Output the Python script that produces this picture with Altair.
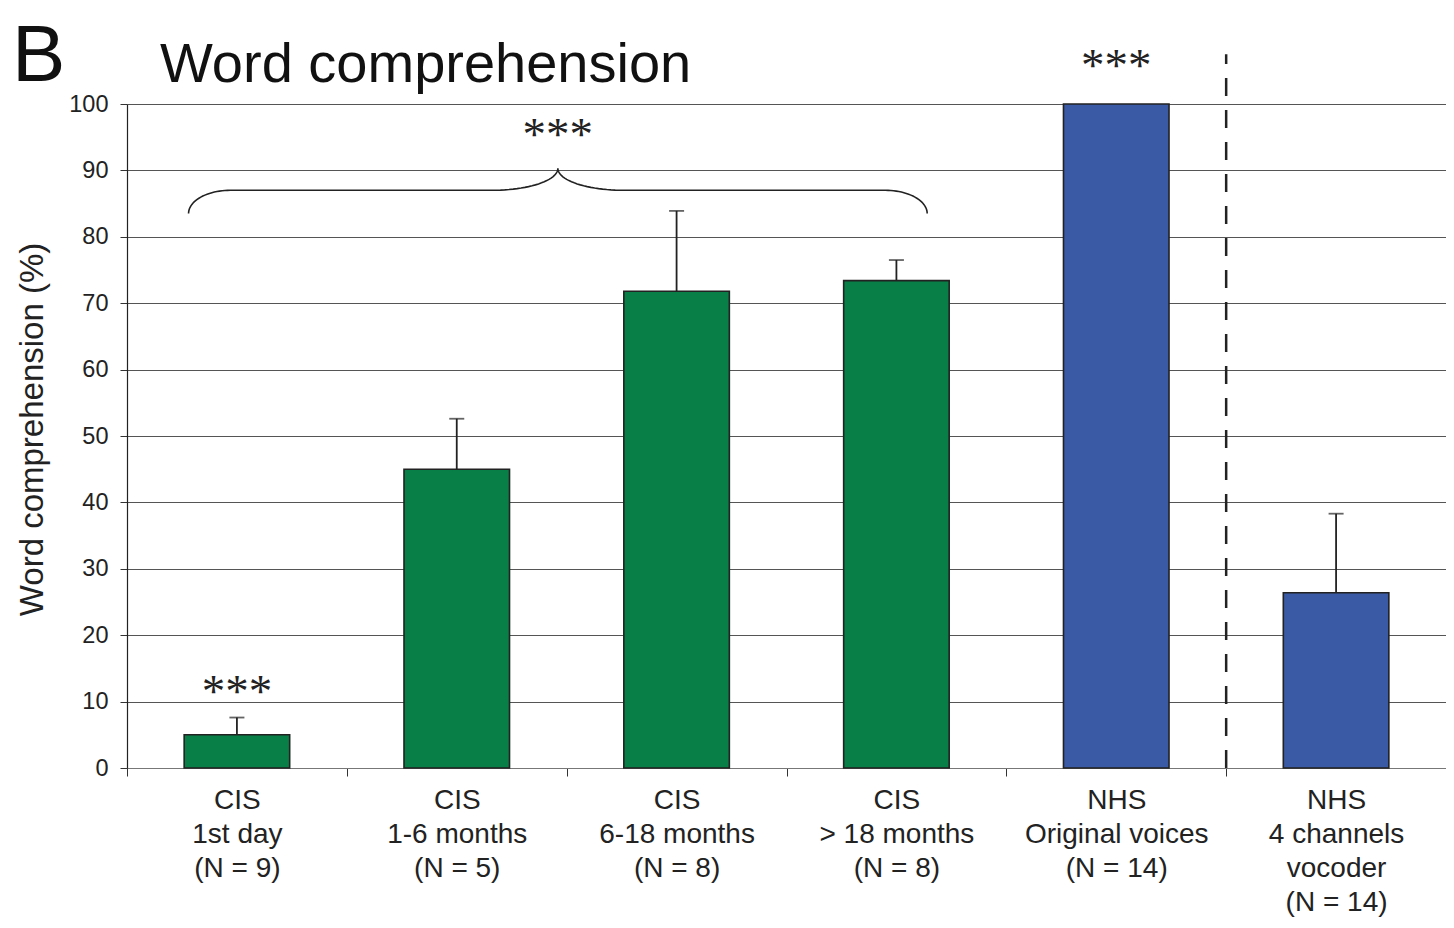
import altair as alt
import pandas as pd
import numpy as np

# ---- data ----
labels = [
    "CIS|1st day|(N = 9)",
    "CIS|1-6 months|(N = 5)",
    "CIS|6-18 months|(N = 8)",
    "CIS|> 18 months|(N = 8)",
    "NHS|Original voices|(N = 14)",
    "NHS|4 channels|vocoder|(N = 14)",
]
groups = ["CIS", "CIS", "CIS", "CIS", "NHS", "NHS"]
means = [5.0, 45.0, 71.8, 73.4, 100.0, 26.4]
upper = [7.6, 52.6, 83.9, 76.5, 100.0, 38.3]
y_ticks = [0, 10, 20, 30, 40, 50, 60, 70, 80, 90, 100]

# brace over the CIS groups (category-index units) and significance marks
brace_span = [0.28, 3.64]
star_pos = [0.5, None, 4.5]          # None -> centre of the brace
star_lvl = [12.3, 96.3, 106.7]
star_txt = ["***", "***", "***"]

df = pd.DataFrame({"label": labels, "group": groups, "mean": means, "upper": upper})
err = df[df["upper"] > df["mean"]]

GREEN = "#077f46"
BLUE = "#3a5aa5"

W, H = 1319, 664
N = len(labels)
BAR = 0.48

xband = alt.X("label:N", sort=labels, title=None,
              scale=alt.Scale(paddingInner=0, paddingOuter=0),
              axis=alt.Axis(labelExpr="split(datum.label, '|')", labelAngle=0,
                            tickBand="extent", labelLimit=0))
yaxis = alt.Axis(values=y_ticks, title="Word comprehension (%)")
ydef = dict(scale=alt.Scale(domain=[0, 100], nice=False, zero=True), axis=yaxis)

bars = alt.Chart(df).mark_bar(stroke="#222", strokeWidth=1.6,
                              width=alt.RelativeBandSize(BAR)).encode(
    x=xband,
    y=alt.Y("mean:Q", **ydef),
    color=alt.Color("group:N", scale=alt.Scale(domain=["CIS", "NHS"], range=[GREEN, BLUE]), legend=None),
)
rules = alt.Chart(err).mark_rule(color="#222", strokeWidth=1.8).encode(
    x=xband, y=alt.Y("mean:Q", **ydef), y2="upper:Q")
caps = alt.Chart(err).mark_tick(color="#222", size=15, thickness=1.8).encode(
    x=xband, y=alt.Y("upper:Q", **ydef))

main = alt.layer(bars, rules, caps)

# ---- annotation layer on a continuous category-index scale ----
xq = dict(scale=alt.Scale(domain=[0, N], nice=False, zero=False), axis=None)

x0, x1 = brace_span
y_end, y_mid, y_tip = 83.5, 87.0, 90.3
rh, rt = 0.19, 0.30
xm = (x0 + x1) / 2
t = np.linspace(0, np.pi / 2, 25)
bx = np.concatenate([
    x0 + rh - rh * np.cos(t),
    xm - rt + rt * np.sin(t),
    xm + rt - rt * np.cos(t),
    x1 - rh + rh * np.sin(t),
])
by = np.concatenate([
    y_end + (y_mid - y_end) * np.sin(t),
    y_tip - (y_tip - y_mid) * np.cos(t),
    y_tip - (y_tip - y_mid) * np.sin(t),
    y_end + (y_mid - y_end) * np.cos(t),
])
brace_df = pd.DataFrame({"x": bx, "y": by, "i": np.arange(len(bx))})
brace = alt.Chart(brace_df).mark_line(color="#222", strokeWidth=1.6).encode(
    x=alt.X("x:Q", **xq), y=alt.Y("y:Q", **ydef), order="i:Q")

sep_df = pd.DataFrame({"x": [5], "y0": [0], "y1": [107.5]})
sep = alt.Chart(sep_df).mark_rule(color="#222", strokeWidth=2.5, strokeDash=[18, 14]).encode(
    x=alt.X("x:Q", **xq), y=alt.Y("y0:Q", **ydef), y2="y1:Q")

stars_df = pd.DataFrame({"x": [xm if p is None else p for p in star_pos],
                         "y": star_lvl, "t": star_txt})
stars = alt.Chart(stars_df).mark_text(font="Liberation Serif", fontSize=47, color="#222",
                                      baseline="alphabetic", dy=21).encode(
    x=alt.X("x:Q", **xq), y=alt.Y("y:Q", **ydef), text="t:N")

panel = alt.Chart(pd.DataFrame({"t": ["B"]})).mark_text(
    font="Liberation Sans", fontSize=80, align="left", baseline="alphabetic", color="#111"
).encode(x=alt.value(-115), y=alt.value(-23), text="t:N")
title = alt.Chart(pd.DataFrame({"t": ["Word comprehension"]})).mark_text(
    font="Liberation Sans", fontSize=56, align="left", baseline="alphabetic", color="#111"
).encode(x=alt.value(33), y=alt.value(-22), text="t:N")

annot = alt.layer(brace, sep, stars, panel, title)

chart = alt.layer(main, annot).resolve_scale(x="independent").properties(
    width=W, height=H,
    autosize=alt.AutoSizeParams(type="none"),
    padding={"left": 119, "top": 96, "right": 0, "bottom": 151},
).configure_view(stroke=None).configure_axis(
    labelFont="Liberation Sans", titleFont="Liberation Sans", labelColor="#222", titleColor="#222",
).configure_axisX(
    labelFontSize=28, labelLineHeight=34, labelPadding=10, tickSize=8, tickColor="#333",
    domainColor="#777", domainWidth=1.2, grid=False,
).configure_axisY(
    labelFontSize=23.5, labelPadding=12, tickSize=7, tickColor="#333", domainColor="#222",
    domainWidth=1.2, gridColor="#555", gridWidth=1,
    titleFontSize=33, titleFontWeight="normal", titleX=-95, titleY=325, titleBaseline="middle",
)

chart.save("out.html", embed_options={"renderer": "svg", "actions": False})
